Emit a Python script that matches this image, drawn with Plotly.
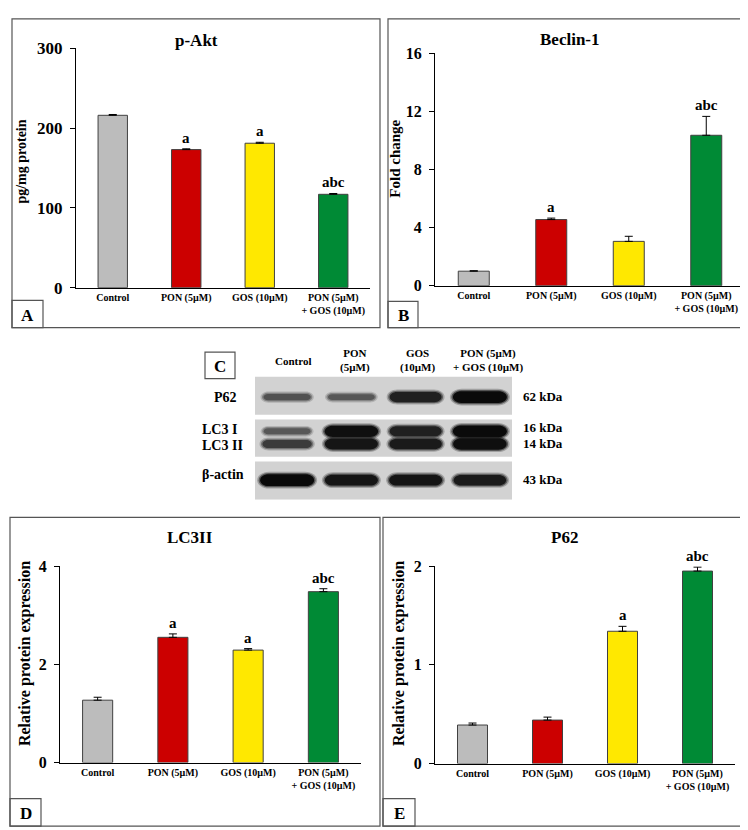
import plotly.graph_objects as go

W, H = 748, 830

# treatment groups (x categories of the bar panels)
groups = ["Control", "PON (5µM)", "GOS (10µM)", "PON (5µM)<br>+ GOS (10µM)"]
bar_colors = ["#bcbcbc", "#cc0000", "#ffe800", "#008a35"]

# A: p-Akt (pg/mg protein)
akt_mean = [216, 173, 181, 117]
akt_err = [1.0, 1.0, 1.2, 1.0]
akt_sig = ["", "a", "a", "abc"]

# B: Beclin-1 (fold change)
beclin_mean = [1.0, 4.55, 3.05, 10.35]
beclin_err = [0.03, 0.1, 0.35, 1.3]
beclin_sig = ["", "a", "", "abc"]

# D: LC3II (relative protein expression)
lc3ii_mean = [1.27, 2.55, 2.29, 3.48]
lc3ii_err = [0.06, 0.07, 0.03, 0.06]
lc3ii_sig = ["", "a", "a", "abc"]

# E: P62 (relative protein expression)
p62_mean = [0.39, 0.44, 1.34, 1.95]
p62_err = [0.02, 0.03, 0.05, 0.04]
p62_sig = ["", "", "a", "abc"]

# C: western blot, relative band density per lane
blot_lanes = ["Control", "PON<br>(5µM)", "GOS<br>(10µM)", "PON (5µM)<br>+ GOS (10µM)"]
blot_p62 = [0.35, 0.3, 0.8, 1.0]
blot_lc3i = [0.3, 0.95, 0.8, 1.0]
blot_lc3ii = [0.55, 0.9, 0.85, 0.95]
blot_actin = [1.0, 0.9, 0.9, 0.85]

FONT = "Liberation Serif"


def fx(x):
    return x / W


def fy(y):
    return 1 - y / H


def label(x, y, text, size, anchor="center", angle=0):
    # text placed in page pixels
    return dict(x=fx(x), y=fy(y), xref="paper", yref="paper", xanchor=anchor, yanchor="middle",
                text="<b>%s</b>" % text, showarrow=False, textangle=angle,
                font=dict(family=FONT, size=size, color="black"))


fig = go.Figure()
shapes = []
annotations = []

# (axis id, data, err, sig, x px domain, y px domain (bottom, top), yrange, ticks, tick size,
#  title, title pos, ytitle, ytitle pos, ytitle size)
panels = [
    ("", akt_mean, akt_err, akt_sig, (68, 362), (277, 32), [0, 300], [0, 100, 200, 300], 17,
     "p-Akt", (188, 24), "pg/mg protein", (24, 158), 14),
    ("2", beclin_mean, beclin_err, beclin_sig, (427, 737), (275, 37), [0, 16], [0, 4, 8, 12, 16], 16,
     "Beclin-1", (562, 23), "Fold change", (397, 155), 15),
    ("3", lc3ii_mean, lc3ii_err, lc3ii_sig, (52, 353), (763, 562), [0, 4], [0, 2, 4], 16,
     "LC3II", (182, 533), "Relative protein expression", (27, 662), 16),
    ("4", p62_mean, p62_err, p62_sig, (427, 727), (764, 562), [0, 2], [0, 1, 2], 16,
     "P62", (556, 533), "Relative protein expression", (401, 662), 16),
]

for ax, vals, err, sig, xd, yd, yr, tv, tsize, title, tpos, ytitle, ypos, ysize in panels:
    fig.add_trace(go.Bar(
        x=groups, y=vals, width=0.4,
        marker=dict(color=bar_colors, line=dict(color="#404040", width=1)),
        error_y=dict(type="data", symmetric=False, array=err, arrayminus=[0] * len(err),
                     color="black", thickness=1, width=4),
        xaxis="x" + ax, yaxis="y" + ax, showlegend=False,
    ))
    fig.update_layout(**{
        "xaxis" + ax: dict(domain=[fx(xd[0]), fx(xd[1])], anchor="y" + ax, showline=True,
                           linecolor="black", linewidth=1, ticks="", showgrid=False,
                           tickfont=dict(family=FONT, size=10, color="black", weight="bold"),
                           fixedrange=True),
        "yaxis" + ax: dict(domain=[fy(yd[0]), fy(yd[1])], anchor="x" + ax, range=yr, tickvals=tv,
                           showline=True, linecolor="black", linewidth=1, ticks="outside",
                           ticklen=5, tickcolor="black", showgrid=False, zeroline=False,
                           ticklabelstandoff=4,
                           tickfont=dict(family=FONT, size=tsize, color="black", weight="bold")),
    })
    for g, v, e, s in zip(groups, vals, err, sig):
        if s:
            annotations.append(dict(x=g, y=v + e, xref="x" + ax, yref="y" + ax, text="<b>%s</b>" % s,
                                    showarrow=False, xanchor="center", yanchor="bottom", yshift=1,
                                    font=dict(family=FONT, size=15, color="black")))
    annotations.append(label(tpos[0], tpos[1], title, 17))
    # rotated labels sit ~10px right/low in plotly, nudge back
    annotations.append(label(ypos[0] - 10, ypos[1] - 10, ytitle, ysize, angle=-90))

# panel frames and letter boxes
frames = [(4, 2, 372, 318), (380, 2, 746, 318), (2, 512, 372, 828), (375, 512, 742, 828)]
letter_boxes = [("A", (4, 290, 35, 318)), ("B", (380, 291, 410, 318)),
                ("D", (2, 800, 33, 828)), ("E", (375, 800, 407, 828)),
                ("C", (197, 343, 227, 370))]
for x0, y0, x1, y1 in frames:
    shapes.append(dict(type="rect", xref="paper", yref="paper", x0=fx(x0), x1=fx(x1),
                       y0=fy(y0), y1=fy(y1), line=dict(color="#555555", width=1.2)))
for lab, (x0, y0, x1, y1) in letter_boxes:
    shapes.append(dict(type="rect", xref="paper", yref="paper", x0=fx(x0), x1=fx(x1),
                       y0=fy(y0), y1=fy(y1), line=dict(color="#555555", width=1.2)))
    annotations.append(label((x0 + x1) / 2, (y0 + y1) / 2 + 1, lab, 17))

# western blot axes: x in lane units, y in pixel rows
fig.add_trace(go.Scatter(x=[1, 4], y=[400, 400], mode="markers", marker=dict(opacity=0),
                         xaxis="x5", yaxis="y5", showlegend=False, hoverinfo="skip"))
fig.update_layout(
    xaxis5=dict(domain=[fx(247), fx(504)], anchor="y5", range=[0.5, 4.5], visible=False),
    yaxis5=dict(domain=[fy(494), fy(368)], anchor="x5", range=[494, 368], visible=False),
)
lane_px = (504 - 247) / 4.0

for y0, y1 in [(368, 407), (412, 450), (455, 494)]:
    shapes.append(dict(type="rect", xref="x5", yref="y5", x0=0.5, x1=4.5, y0=y0, y1=y1,
                       fillcolor="#d2d2d2", line=dict(width=0), layer="below"))


def band_path(cx, cy, w_px, h_px):
    rx = min(h_px * 0.7, w_px / 2) / lane_px
    ry = h_px / 2.0
    hw = w_px / 2.0 / lane_px
    x0, x1 = cx - hw, cx + hw
    ya, yb = cy - ry, cy + ry
    k = 0.55
    return ("M %f,%f L %f,%f C %f,%f %f,%f %f,%f C %f,%f %f,%f %f,%f L %f,%f "
            "C %f,%f %f,%f %f,%f C %f,%f %f,%f %f,%f Z") % (
        x0 + rx, ya, x1 - rx, ya,
        x1 - rx + k * rx, ya, x1, cy - k * ry, x1, cy,
        x1, cy + k * ry, x1 - rx + k * rx, yb, x1 - rx, yb,
        x0 + rx, yb,
        x0 + rx - k * rx, yb, x0, cy + k * ry, x0, cy,
        x0, cy - k * ry, x0 + rx - k * rx, ya, x0 + rx, ya)


for dens, row_y in [(blot_p62, 389), (blot_lc3i, 424), (blot_lc3ii, 437), (blot_actin, 474)]:
    for i, d in enumerate(dens):
        cx = i + 1
        w = lane_px * (0.68 + 0.16 * d)
        h = 3.5 + 8.5 * d
        g = int(120 - 110 * d)
        col = "rgb(%d,%d,%d)" % (g, g, g)
        for dw, dh, op in [(6, 5, 0.25), (3, 2.5, 0.5), (0, 0, 1.0)]:
            shapes.append(dict(type="path", xref="x5", yref="y5",
                               path=band_path(cx, row_y, w + dw, h + dh),
                               fillcolor=col, opacity=op, line=dict(width=0)))

# blot lane headers
for i, lab in enumerate(blot_lanes):
    cx = 247 + lane_px * (i + 0.5) + [6, 4, 2, 8][i]
    annotations.append(label(cx, 352, lab, 11))

# row labels and molecular weights
row_labels = [("P62", 217, 389, "center"), ("LC3 I", 192, 422, "left"),
              ("LC3 II", 192, 439, "left"), ("β-actin", 192, 468, "left")]
for lab, x, y, anc in row_labels:
    annotations.append(label(x, y, lab, 14, anchor=anc))
kda_labels = [("62 kDa", 388), ("16 kDa", 420), ("14 kDa", 436), ("43 kDa", 473)]
for lab, y in kda_labels:
    annotations.append(label(513, y, lab, 13, anchor="left"))

fig.update_layout(
    width=W, height=H, margin=dict(l=0, r=0, t=0, b=0),
    paper_bgcolor="white", plot_bgcolor="white",
    font=dict(family=FONT, color="black"),
    shapes=shapes, annotations=annotations, showlegend=False,
)

fig.write_html("out.html")
